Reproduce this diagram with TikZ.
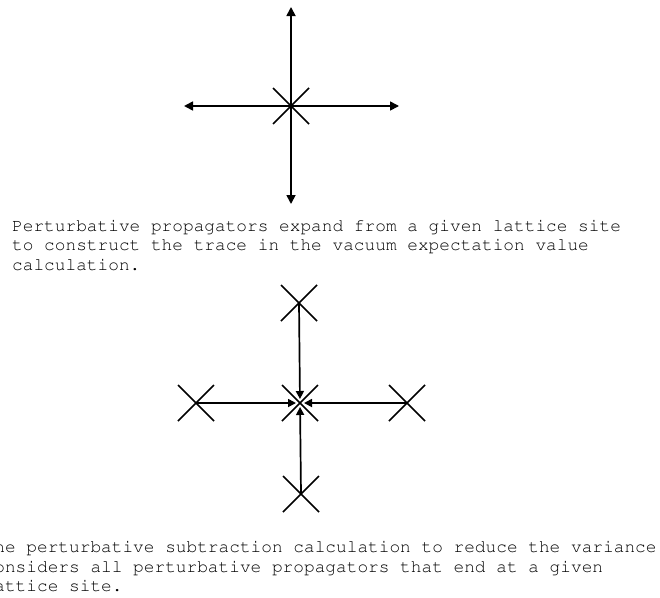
\documentclass[tikz,border=0pt]{standalone}
\usetikzlibrary{arrows.meta,shapes.misc}
\newcommand\courtext{\fontencoding{T1}\fontfamily{pcr}\fontseries{m}\fontshape{n}\fontsize{17.8}{19.6}\selectfont}
\tikzset{
  crossmark/.style={cross out, draw, line width=1.7pt, minimum size=36pt, inner sep=0pt, outer sep=0pt},
  bigarrow/.style={line width=1.7pt, -{Triangle[length=9pt,width=9pt]}},
  smallarrow/.style={line width=1.7pt, -{Triangle[length=8pt,width=8pt]}, shorten >=4pt},
  txt/.style={anchor=base west, inner sep=0pt, font=\courtext}
}
\begin{document}
\begin{tikzpicture}[x=1pt,y=-1pt]
\useasboundingbox (0,0) rectangle (660,597);
\clip (0,0) rectangle (660,597);
\fill[white] (0,0) rectangle (660,597);
% top figure
\node[crossmark] (c1) at (291,106) {};
\coordinate (up) at (291,7);
\coordinate (dn) at (291,204);
\coordinate (lt) at (184,106);
\coordinate (rt) at (399,106);
\draw[bigarrow] (c1.center) -- (up);
\draw[bigarrow] (c1.center) -- (dn);
\draw[bigarrow] (c1.center) -- (lt);
\draw[bigarrow] (c1.center) -- (rt);
% top text
\node[txt] (t1) at (12,231) {Perturbative propagators expand from a given lattice site};
\node[txt] (t2) at (12,250.6) {to construct the trace in the vacuum expectation value};
\node[txt] (t3) at (12,270.2) {calculation.};
% bottom figure
\node[crossmark] (c2) at (300,403) {};
\node[crossmark] (xt) at (299,303) {};
\node[crossmark] (xb) at (301,494) {};
\node[crossmark] (xl) at (196,403) {};
\node[crossmark] (xr) at (407,403) {};
\draw[smallarrow] (xt.center) -- (c2.center);
\draw[smallarrow] (xb.center) -- (c2.center);
\draw[smallarrow] (xl.center) -- (c2.center);
\draw[smallarrow] (xr.center) -- (c2.center);
% bottom text
\node[txt] (b1) at (-16.5,552.5) {The perturbative subtraction calculation to reduce the variance};
\node[txt] (b2) at (-16.5,572.1) {considers all perturbative propagators that end at a given};
\node[txt] (b3) at (-16.5,591.7) {lattice site.};
\end{tikzpicture}
\end{document}
